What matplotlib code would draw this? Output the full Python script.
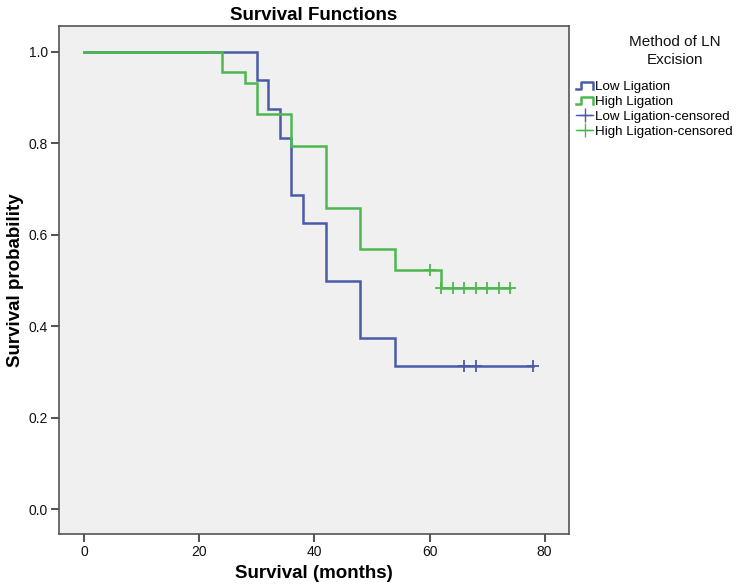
import numpy as np
import matplotlib
matplotlib.use("Agg")
import matplotlib.pyplot as plt
from matplotlib.lines import Line2D
from matplotlib.legend_handler import HandlerBase

plt.rcParams['font.family'] = ['Liberation Sans', 'DejaVu Sans']

# ---- data ----
low_times = [0, 30, 32, 34, 36, 38, 42, 48, 54, 78]
low_surv = [1.0, 0.9375, 0.875, 0.8125, 0.6875, 0.625, 0.5, 0.375, 0.3125, 0.3125]
low_censored = [66, 68, 78]

high_times = [0, 24, 28, 30, 36, 42, 48, 54, 62, 74]
high_surv = [1.0, 0.955, 0.932, 0.864, 0.795, 0.659, 0.568, 0.523, 0.483, 0.483]
high_censored = [60, 62, 64, 66, 68, 70, 72, 74]

x_ticks = [0, 20, 40, 60, 80]
y_ticks = [0.0, 0.2, 0.4, 0.6, 0.8, 1.0]
labels = ["Low Ligation", "High Ligation", "Low Ligation-censored", "High Ligation-censored"]
legend_title = "Method of LN\nExcision"

blue = '#4a5aa6'
green = '#4cb84f'


def surv_at(times, surv, t):
    idx = np.searchsorted(times, t, side='right') - 1
    return np.asarray(surv)[idx]


W, H = 742, 587
fig = plt.figure(figsize=(W / 100, H / 100), dpi=100)
ax = fig.add_axes([0.0795, 0.0903, 0.687, 0.8654])
ax.set_facecolor('#f0f0f0')

ax.step(low_times, low_surv, where='post', color=blue, lw=1.8, solid_joinstyle='miter')
ax.step(high_times, high_surv, where='post', color=green, lw=1.8, solid_joinstyle='miter')
ax.plot(low_censored, surv_at(low_times, low_surv, low_censored), ls='none',
        marker='+', ms=8, mew=1.3, color=blue)
ax.plot(high_censored, surv_at(high_times, high_surv, high_censored), ls='none',
        marker='+', ms=8, mew=1.3, color=green)

ax.set_xlim(-4.4, 84.2)
ax.set_ylim(-0.054, 1.0565)
ax.set_xticks(x_ticks)
ax.set_yticks(y_ticks)
ax.set_yticklabels([f"{v:.1f}" for v in y_ticks])
ax.tick_params(direction='out', length=6, width=1.2, color='#333333', labelsize=10,
               labelcolor='#111111', pad=2)
for sp in ax.spines.values():
    sp.set_color('#555555')
    sp.set_linewidth(1.2)

ax.set_xlabel('Survival (months)', fontsize=13.5, fontweight='bold', labelpad=4)
ax.set_ylabel('Survival probability', fontsize=13.5, fontweight='bold', labelpad=3)
ax.set_title('Survival Functions', fontsize=13.5, fontweight='bold', pad=4)


class StepHandler(HandlerBase):
    def create_artists(self, legend, orig_handle, xdescent, ydescent, width, height, fontsize, trans):
        x0, x1 = -xdescent, -xdescent + width
        y0, y1 = -ydescent + height * 0.15, -ydescent + height * 0.85
        xs = [x0, x0 + width * 0.3, x0 + width * 0.3, x1, x1]
        ys = [y0, y0, y1, y1, y0]
        ln = Line2D(xs, ys, color=orig_handle.get_color(), lw=1.8, transform=trans)
        return [ln]


class CensHandler(HandlerBase):
    def create_artists(self, legend, orig_handle, xdescent, ydescent, width, height, fontsize, trans):
        x0, x1 = -xdescent, -xdescent + width
        ym = -ydescent + height / 2
        ln = Line2D([x0, x1], [ym, ym], color=orig_handle.get_color(), lw=1.0, transform=trans)
        mk = Line2D([(x0 + x1) / 2], [ym], marker='+', ms=10, mew=1.0, ls='none',
                    color=orig_handle.get_color(), transform=trans)
        return [ln, mk]


h_low = Line2D([], [], color=blue)
h_high = Line2D([], [], color=green)
h_lowc = Line2D([], [], color=blue, marker='+')
h_highc = Line2D([], [], color=green, marker='+')

fig.text(675 / W, 1 - 51 / H, legend_title, ha='center', va='center', fontsize=11,
         linespacing=1.35, color='#111111')

leg = fig.legend([h_low, h_high, h_lowc, h_highc], labels,
                 handler_map={h_low: StepHandler(), h_high: StepHandler(),
                              h_lowc: CensHandler(), h_highc: CensHandler()},
                 loc='upper left', bbox_to_anchor=(576 / W, 1 - 81 / H), frameon=False,
                 fontsize=9.6, handlelength=1.3, handletextpad=0.1, labelspacing=0.18,
                 borderaxespad=0, borderpad=0)

fig.savefig('out.png', dpi=100, facecolor='white')
